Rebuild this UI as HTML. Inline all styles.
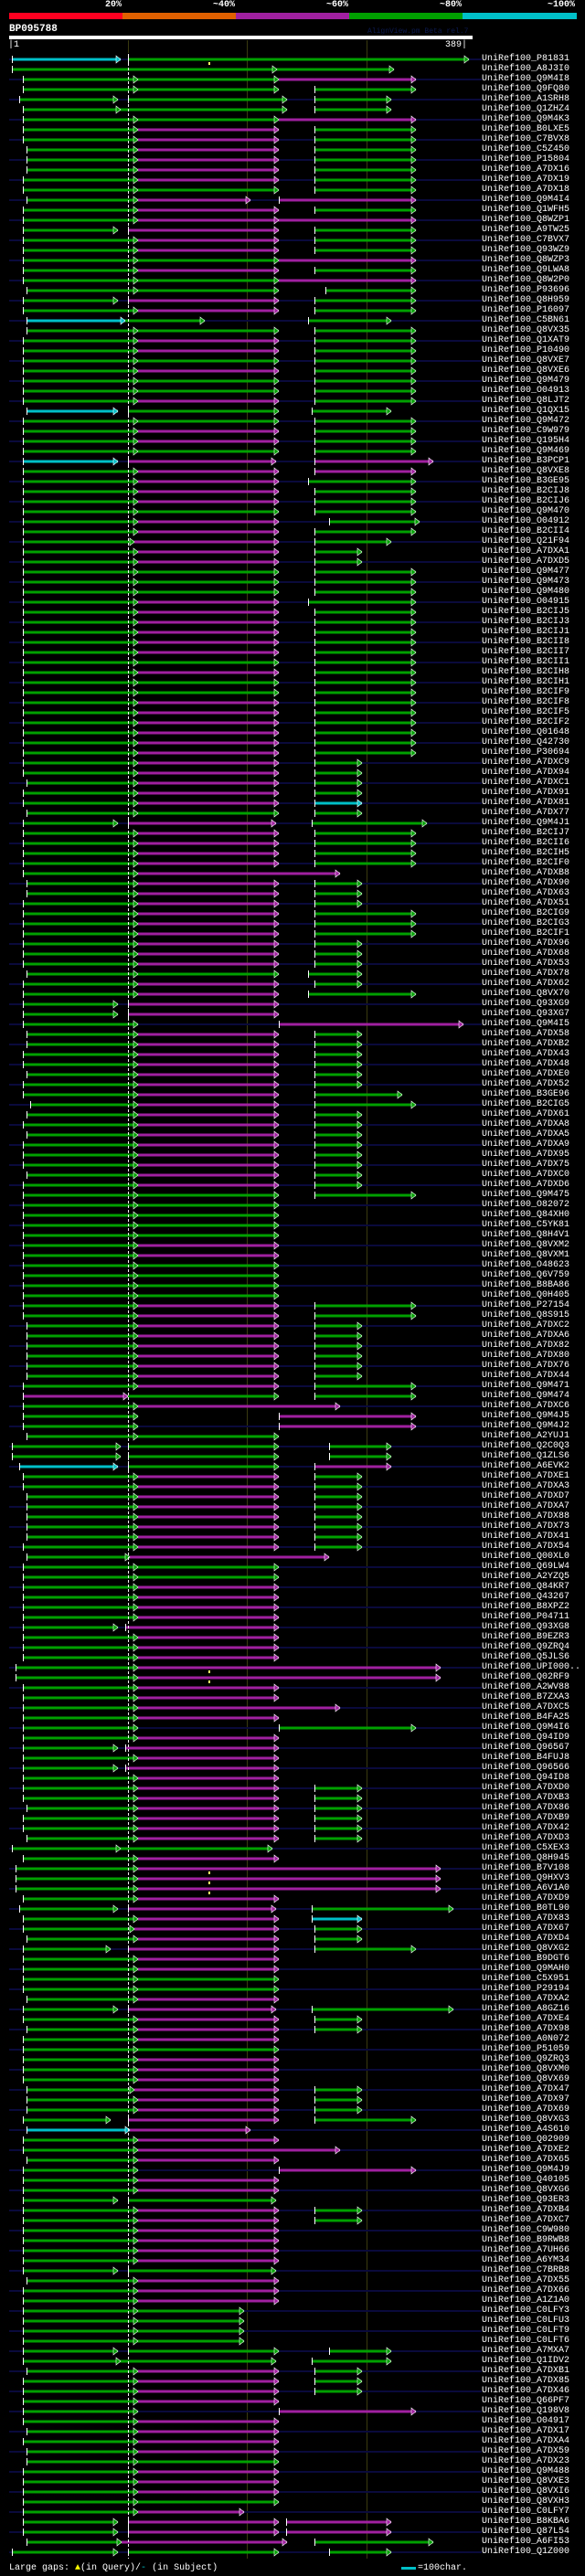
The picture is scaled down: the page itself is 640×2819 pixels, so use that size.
<!DOCTYPE html>
<html><head><meta charset="utf-8">
<style>
html,body{margin:0;padding:0;background:#000;}
body{width:640px;height:2819px;position:relative;overflow:hidden;font-family:"Liberation Mono",monospace;color:#fff;}
.pct{position:absolute;top:0;font:bold 10px "Liberation Mono",monospace;text-align:right;width:60px;}
#names{position:absolute;left:527px;top:59px;margin:0;font:10px/11px "Liberation Mono",monospace;color:#fff;white-space:pre;}
svg{position:absolute;left:0;top:0;}
</style></head><body>
<div class="pct" style="left:73px">20%</div>
<div class="pct" style="left:197px">~40%</div>
<div class="pct" style="left:321px">~60%</div>
<div class="pct" style="left:445px">~80%</div>
<div class="pct" style="left:569px">~100%</div>
<div style="position:absolute;top:14px;left:10px;width:124px;height:7px;background:#ff0020"></div>
<div style="position:absolute;top:14px;left:134px;width:124px;height:7px;background:#e06000"></div>
<div style="position:absolute;top:14px;left:258px;width:124px;height:7px;background:#a020a0"></div>
<div style="position:absolute;top:14px;left:382px;width:124px;height:7px;background:#00a000"></div>
<div style="position:absolute;top:14px;left:506px;width:125px;height:7px;background:#00c0c8"></div>
<div style="position:absolute;top:26px;left:10px;font:bold 11px 'Liberation Mono',monospace;">BP095788</div>
<div style="position:absolute;top:30px;left:402px;font:8px 'Liberation Mono',monospace;color:#0c1a50;">AlignView.pm Beta rel.7</div>
<div style="position:absolute;top:39px;left:10px;width:507px;height:4px;background:#fff"></div>
<div style="position:absolute;top:44px;left:9px;font:10px 'Liberation Mono',monospace;">|1</div>
<div style="position:absolute;top:44px;left:487px;font:10px 'Liberation Mono',monospace;">389|</div>
<svg id="sv" width="640" height="2819" xmlns="http://www.w3.org/2000/svg"></svg>
<pre id="names">UniRef100_P81831
UniRef100_A8J3I0
UniRef100_Q9M4I8
UniRef100_Q9FQ80
UniRef100_A1SRH8
UniRef100_Q1ZHZ4
UniRef100_Q9M4K3
UniRef100_B0LXE5
UniRef100_C7BVX8
UniRef100_C5Z450
UniRef100_P15804
UniRef100_A7DX16
UniRef100_A7DX19
UniRef100_A7DX18
UniRef100_Q9M4I4
UniRef100_Q1WFH5
UniRef100_Q8WZP1
UniRef100_A9TW25
UniRef100_C7BVX7
UniRef100_Q93WZ9
UniRef100_Q8WZP3
UniRef100_Q9LWA8
UniRef100_Q8W2P0
UniRef100_P93696
UniRef100_Q8H959
UniRef100_P16097
UniRef100_C5BN61
UniRef100_Q8VX35
UniRef100_Q1XAT9
UniRef100_P10490
UniRef100_Q8VXE7
UniRef100_Q8VXE6
UniRef100_Q9M479
UniRef100_O04913
UniRef100_Q8LJT2
UniRef100_Q1QX15
UniRef100_Q9M472
UniRef100_C9W979
UniRef100_Q195H4
UniRef100_Q9M469
UniRef100_B3PCP1
UniRef100_Q8VXE8
UniRef100_B3GE95
UniRef100_B2CIJ8
UniRef100_B2CIJ6
UniRef100_Q9M470
UniRef100_O04912
UniRef100_B2CII4
UniRef100_Q21F94
UniRef100_A7DXA1
UniRef100_A7DXD5
UniRef100_Q9M477
UniRef100_Q9M473
UniRef100_Q9M480
UniRef100_O04915
UniRef100_B2CIJ5
UniRef100_B2CIJ3
UniRef100_B2CIJ1
UniRef100_B2CII8
UniRef100_B2CII7
UniRef100_B2CII1
UniRef100_B2CIH8
UniRef100_B2CIH1
UniRef100_B2CIF9
UniRef100_B2CIF8
UniRef100_B2CIF5
UniRef100_B2CIF2
UniRef100_Q01648
UniRef100_Q42730
UniRef100_P30694
UniRef100_A7DXC9
UniRef100_A7DX94
UniRef100_A7DXC1
UniRef100_A7DX91
UniRef100_A7DX81
UniRef100_A7DX77
UniRef100_Q9M4J1
UniRef100_B2CIJ7
UniRef100_B2CII6
UniRef100_B2CIH5
UniRef100_B2CIF0
UniRef100_A7DXB8
UniRef100_A7DX90
UniRef100_A7DX63
UniRef100_A7DX51
UniRef100_B2CIG9
UniRef100_B2CIG3
UniRef100_B2CIF1
UniRef100_A7DX96
UniRef100_A7DX68
UniRef100_A7DX53
UniRef100_A7DX78
UniRef100_A7DX62
UniRef100_Q8VX70
UniRef100_Q93XG9
UniRef100_Q93XG7
UniRef100_Q9M4I5
UniRef100_A7DX58
UniRef100_A7DXB2
UniRef100_A7DX43
UniRef100_A7DX48
UniRef100_A7DXE0
UniRef100_A7DX52
UniRef100_B3GE96
UniRef100_B2CIG5
UniRef100_A7DX61
UniRef100_A7DXA8
UniRef100_A7DXA5
UniRef100_A7DXA9
UniRef100_A7DX95
UniRef100_A7DX75
UniRef100_A7DXC0
UniRef100_A7DXD6
UniRef100_Q9M475
UniRef100_O82072
UniRef100_Q84XH0
UniRef100_C5YK81
UniRef100_Q8H4V1
UniRef100_Q8VXM2
UniRef100_Q8VXM1
UniRef100_O48623
UniRef100_Q6V759
UniRef100_B8BA86
UniRef100_Q0H405
UniRef100_P27154
UniRef100_Q8S915
UniRef100_A7DXC2
UniRef100_A7DXA6
UniRef100_A7DX82
UniRef100_A7DX80
UniRef100_A7DX76
UniRef100_A7DX44
UniRef100_Q9M471
UniRef100_Q9M474
UniRef100_A7DXC6
UniRef100_Q9M4J5
UniRef100_Q9M4J2
UniRef100_A2YUJ1
UniRef100_Q2C0Q3
UniRef100_Q1ZLS6
UniRef100_A6EVK2
UniRef100_A7DXE1
UniRef100_A7DXA3
UniRef100_A7DXD7
UniRef100_A7DXA7
UniRef100_A7DX88
UniRef100_A7DX73
UniRef100_A7DX41
UniRef100_A7DX54
UniRef100_Q00XL0
UniRef100_Q69LW4
UniRef100_A2YZQ5
UniRef100_Q84KR7
UniRef100_Q43267
UniRef100_B8XPZ2
UniRef100_P04711
UniRef100_Q93XG8
UniRef100_B9EZR3
UniRef100_Q9ZRQ4
UniRef100_Q5JLS6
UniRef100_UPI000..
UniRef100_Q02RF9
UniRef100_A2WV88
UniRef100_B7ZXA3
UniRef100_A7DXC5
UniRef100_B4FA25
UniRef100_Q9M4I6
UniRef100_Q94ID9
UniRef100_Q96567
UniRef100_B4FUJ8
UniRef100_Q96566
UniRef100_Q94ID8
UniRef100_A7DXD0
UniRef100_A7DXB3
UniRef100_A7DX86
UniRef100_A7DXB9
UniRef100_A7DX42
UniRef100_A7DXD3
UniRef100_C5XEX3
UniRef100_Q8H945
UniRef100_B7V108
UniRef100_Q9HXV3
UniRef100_A6V1A0
UniRef100_A7DXD9
UniRef100_B0TL90
UniRef100_A7DX83
UniRef100_A7DX67
UniRef100_A7DXD4
UniRef100_Q8VXG2
UniRef100_B9DGT6
UniRef100_Q9MAH0
UniRef100_C5X951
UniRef100_P29194
UniRef100_A7DXA2
UniRef100_A8GZ16
UniRef100_A7DXE4
UniRef100_A7DX98
UniRef100_A0N072
UniRef100_P51059
UniRef100_Q9ZRQ3
UniRef100_Q8VXM0
UniRef100_Q8VX69
UniRef100_A7DX47
UniRef100_A7DX97
UniRef100_A7DX69
UniRef100_Q8VXG3
UniRef100_A4S610
UniRef100_Q02909
UniRef100_A7DXE2
UniRef100_A7DX65
UniRef100_Q9M4J9
UniRef100_Q40105
UniRef100_Q8VXG6
UniRef100_Q93ER3
UniRef100_A7DXB4
UniRef100_A7DXC7
UniRef100_C9W980
UniRef100_B9RWB8
UniRef100_A7UH66
UniRef100_A6YM34
UniRef100_C7BRB8
UniRef100_A7DX55
UniRef100_A7DX66
UniRef100_A1Z1A0
UniRef100_C0LFY3
UniRef100_C0LFU3
UniRef100_C0LFT9
UniRef100_C0LFT6
UniRef100_A7MXA7
UniRef100_Q1IDV2
UniRef100_A7DXB1
UniRef100_A7DX85
UniRef100_A7DX46
UniRef100_Q66PF7
UniRef100_Q198V8
UniRef100_O04917
UniRef100_A7DX17
UniRef100_A7DXA4
UniRef100_A7DX59
UniRef100_A7DX23
UniRef100_Q9M488
UniRef100_Q8VXE3
UniRef100_Q8VXI6
UniRef100_Q8VXH3
UniRef100_C0LFY7
UniRef100_B8KBA6
UniRef100_Q87L54
UniRef100_A6FI53
UniRef100_Q1Z000</pre>
<div style="position:absolute;top:2805px;left:10px;font:10px 'Liberation Mono',monospace;">Large gaps: <span style="color:#ff0">&#9650;</span>(in Query)/<span style="color:#00c0c8">-</span> (in Subject)</div>
<div style="position:absolute;top:2809px;left:439px;width:16px;height:3px;background:#00c0c8"></div>
<div style="position:absolute;top:2805px;left:457px;font:10px 'Liberation Mono',monospace;">=100char.</div>
<script>
var A="25 G151 M305 344 G455",A29="29 G151 M305 344 G455",AG="25 G151 G305 344 G455",
B="25 G151 M305 344 G396",B29="29 G151 M305 344 G396",CG="25 G151 G305",CM="25 G151 M305";
var R=["13 C132 140 G513","13 G303 G431","25 G151 G305 M455","25 G151 G305 344 G455","21 G129 140 G314 344 G428","25 G132 G314 344 G428",
"25 G151 G305 M455",A,A,A29,A29,A29,A,AG,"29 G151 M274 305 M455",A,"25 G151 M305 M455","25 G129 140 M305 344 G455",A,A,
"25 G151 G305 M455",A,"25 G151 G305 M455","29 G151 G305 356 G455","25 G129 140 M305 344 G455",A,"29 C137 G224 337 G428","29 G151 G305 344 G455",A,A,
AG,A,AG,AG,A,"29 C129 140 G305 341 G428",AG,A,A,AG,
"25 C129 140 M302 344 M474","25 G151 M305 344 M455","25 G151 M305 337 G455",A,A,AG,"25 G151 M305 360 G459",A,"25 G147 M305 344 G428",B,
B,AG,AG,AG,"25 G151 M305 337 G455",A,A,A,A,A,
AG,A,AG,AG,A,A,A,A,A,A,
B,B,B29,B,"25 G151 M305 344 C396","29 G151 G305 344 G396","25 G129 140 M302 341 G467",A,A,A,
A,"25 G151 M372",B29,B29,B,A,A,A,B,B,
B,"29 G151 G305 337 G396",B,"25 G151 M305 337 G455","25 G129 140 M305","25 G129 140 M305","25 G151 305 M507",B29,B29,B,
B,B29,B,"25 G151 M305 344 G440","33 G151 M305 344 G455",B29,B,B29,B,B,
B,B29,B,AG,CG,CG,CG,CG,CM,CM,
CG,CG,CG,CG,A,A,B29,B29,B29,B29,
B29,B29,A,"25 M140 G305 344 G455","25 G151 M372","25 G151 305 M455","25 G151 305 M455","29 G151 G305","13 G132 140 G305 360 G428","13 G132 140 G305 360 G428",
"21 C129 140 G305 344 M428",B,B,B29,B29,B29,B29,B29,B,"29 G142 M360",
CG,CG,CM,CM,CM,CM,"25 G129 137 M305",CM,CM,CM,
"17 G151 M482","17 G151 M482",CM,CM,"25 G151 M372",CM,"25 G151 305 G455",CM,"25 G129 137 M305",CM,
"25 G129 137 M305",CM,B,B,B29,B,B,B29,"13 G132 G298",CM,
"17 G151 M482","17 G151 M482","17 G151 M482",CM,"21 G129 140 M302 341 G496","25 G151 M305 341 C396","25 G147 M305 344 G396",B29,"25 G121 140 M305 344 G455",CM,
CM,CG,CG,"29 G151 M305","25 G129 140 M302 341 G496",B,B29,CM,CG,CM,
CM,CM,"29 G147 M305 344 G396",B29,B29,"25 G121 140 M305 344 G455","29 C142 M274",CM,"25 G151 M372","29 G151 M305",
"25 G151 305 M455",CM,CM,"25 G129 140 G302",B,B,CM,CM,CM,CM,
"25 G129 140 G302","29 G151 M305",CM,CM,"25 G151 G267","25 G151 G267","25 G151 G267","25 G151 G267","25 G129 140 G305 360 G428","25 G132 G302 341 G428",
B29,B,B,CM,"25 G151 305 M455",CM,"29 G151 M305",CM,"29 G151 M305","29 G151 G305",
CM,CM,CM,CG,"25 G151 M267","25 G129 140 M305 313 M428","25 G129 140 M305 313 M428","29 G133 M314 344 G474","13 G129 140 G305 360 G428"];
var col={G:"#00a000",M:"#a020a0",C:"#00c0c8"};
var s=[],t=[],a=[],k=[];
s.push('<line x1="270.5" y1="44" x2="270.5" y2="2800" stroke="#3a3a10" stroke-width="1"/>');
s.push('<line x1="401.5" y1="44" x2="401.5" y2="2800" stroke="#3a3a10" stroke-width="1"/>');
s.push('<line x1="140.5" y1="44" x2="140.5" y2="58" stroke="#3a3a10" stroke-width="1"/>');
for(var i=0;i<R.length;i++){
 var y=65+i*11;
 if(i%2==0) s.push('<rect x="10" y="'+(y-1)+'" width="517" height="2" fill="#0a0a3c"/>');
 var tok=R[i].split(' '),cur=0;
 for(var j=0;j<tok.length;j++){
  var tk=tok[j],c=tk.charAt(0);
  if(col[c]){
   var x=+tk.slice(1);
   t.push('<rect x="'+cur+'" y="'+(y-1.5)+'" width="'+(x-cur)+'" height="3" fill="'+col[c]+'"/>');
   a.push('<polygon points="'+(x-5)+','+(y-4)+' '+x+','+y+' '+(x-5)+','+(y+4)+'" fill="'+col[c]+'" stroke="#fff" stroke-width="0.6"/>');
   cur=x;
  } else {cur=+tk;k.push('<rect x="'+cur+'" y="'+(y-4)+'" width="1" height="8" fill="#fff"/>');}
 }
}
var yl=[0,160,161,180,181,182];
for(var m=0;m<yl.length;m++){var yy=65+yl[m]*11;a.push('<rect x="228" y="'+(yy+3)+'" width="2" height="3" fill="#ff6"/>');}
k.push('<line x1="140.5" y1="59" x2="140.5" y2="2800" stroke="#fff" stroke-width="1" stroke-dasharray="3,2"/>');
document.getElementById('sv').innerHTML=s.join('')+t.join('')+a.join('')+k.join('');
</script>
</body></html>
